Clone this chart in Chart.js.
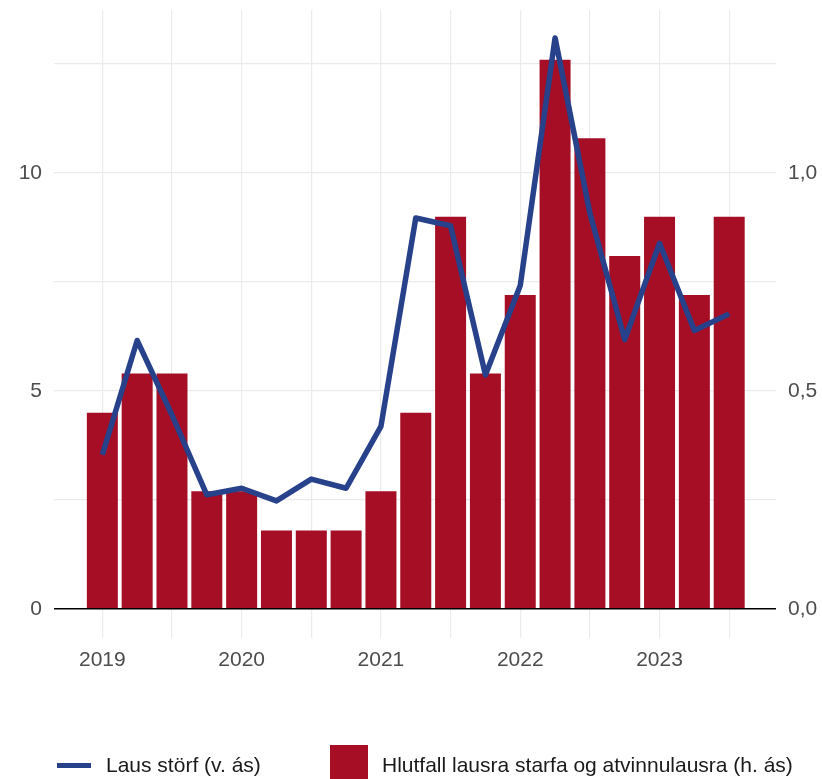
<!DOCTYPE html>
<html>
<head>
<meta charset="utf-8">
<script src="https://cdn.jsdelivr.net/npm/chart.js@4"></script>
<style>
  html, body { margin: 0; padding: 0; background: #fff; }
  #wrap { position: relative; width: 822px; height: 779px; overflow: hidden; }
  #c { position: absolute; left: 0; top: 0; }
  .leg { position: absolute; font-family: "Liberation Sans", Arial, sans-serif; font-size: 21px; color: #1a1a1a; white-space: nowrap; line-height: 24px; }
  .sw-line { position: absolute; height: 5px; background: #27418b; }
  .sw-box { position: absolute; background: #a50e24; }
</style>
</head>
<body>
<div id="wrap">
  <canvas id="c" width="822" height="779"></canvas>
  <div class="sw-line" style="left:57px; top:763px; width:34px;"></div>
  <div class="leg" style="left:106px; top:753px;">Laus störf (v. ás)</div>
  <div class="sw-box" style="left:330px; top:745px; width:38px; height:40px;"></div>
  <div class="leg" style="left:382px; top:753px;">Hlutfall lausra starfa og atvinnulausra (h. ás)</div>
</div>
<script>
// Quarters
const quarters = ["2019Q1","2019Q2","2019Q3","2019Q4","2020Q1","2020Q2","2020Q3","2020Q4",
  "2021Q1","2021Q2","2021Q3","2021Q4","2022Q1","2022Q2","2022Q3","2022Q4","2023Q1","2023Q2","2023Q3"];
// Laus störf (left axis)
const lausStorf = [3.54, 6.16, 4.45, 2.62, 2.77, 2.48, 2.98, 2.77, 4.19, 8.97, 8.79, 5.37, 7.42, 13.1, 9.08, 6.18, 8.39, 6.39, 6.77];
// Hlutfall lausra starfa og atvinnulausra (right axis)
const hlutfall = [0.45, 0.54, 0.54, 0.27, 0.27, 0.18, 0.18, 0.18, 0.27, 0.45, 0.90, 0.54, 0.72, 1.26, 1.08, 0.81, 0.90, 0.72, 0.90];
// Tick labels
const xTickValues = [2019, 2019.5, 2020, 2020.5, 2021, 2021.5, 2022, 2022.5, 2023, 2023.5];
const yLeftTicks = [0, 2.5, 5, 7.5, 10, 12.5];
const yLeftLabels = {0: "0", 5: "5", 10: "10"};
const yRightTicks = [0, 0.5, 1.0];
const yRightLabels = ["0,0", "0,5", "1,0"];

const qx = q => parseInt(q.slice(0, 4)) + (parseInt(q.slice(5)) - 1) / 4;
const lineData = quarters.map((q, i) => ({x: qx(q), y: lausStorf[i]}));
const barData = quarters.map((q, i) => ({x: qx(q), y: hlutfall[i]}));

const tickFont = {family: "'Liberation Sans', Arial, sans-serif", size: 21};
const tickColor = "#4d4d4d";
const gridColor = "#ebebeb";
const noPad = s => { s.paddingTop = 0; s.paddingBottom = 0; s.paddingLeft = 0; s.paddingRight = 0; };

new Chart(document.getElementById("c"), {
  data: {
    datasets: [
      {
        type: "line", label: "Laus störf (v. ás)", data: lineData, yAxisID: "y",
        borderColor: "#27418b", borderWidth: 5.5, pointRadius: 0, tension: 0,
        borderJoinStyle: "round", borderCapStyle: "butt", order: 0
      },
      {
        type: "bar", label: "Hlutfall lausra starfa og atvinnulausra (h. ás)", data: barData, yAxisID: "y2",
        backgroundColor: "#a50e24", borderWidth: 0, barPercentage: 0.89, categoryPercentage: 1.0, order: 1
      }
    ]
  },
  options: {
    responsive: false,
    animation: false,
    events: [],
    layout: {padding: {top: 10, bottom: 101, left: 0, right: 0}},
    plugins: {legend: {display: false}, tooltip: {enabled: false}},
    scales: {
      x: {
        type: "linear", min: 2018.653, max: 2023.836, offset: false,
        afterBuildTicks: s => { s.ticks = xTickValues.map(v => ({value: v})); },
        afterFit: s => { s.height = 40; noPad(s); },
        grid: {color: gridColor, lineWidth: 1.2, drawTicks: false, offset: false},
        border: {display: false},
        ticks: {
          font: tickFont, color: tickColor, padding: 10, maxRotation: 0, autoSkip: false,
          callback: v => Number.isInteger(v) ? String(v) : ""
        }
      },
      y: {
        type: "linear", position: "left", min: -0.665, max: 13.74,
        afterBuildTicks: s => { s.ticks = yLeftTicks.map(v => ({value: v})); },
        afterFit: s => { s.width = 54; noPad(s); },
        grid: {color: gridColor, lineWidth: 1.2, drawTicks: false},
        border: {display: false},
        ticks: {
          font: tickFont, color: tickColor, padding: 12,
          callback: v => (yLeftLabels[v] !== undefined ? yLeftLabels[v] : "")
        }
      },
      y2: {
        type: "linear", position: "right", min: -0.0665, max: 1.374,
        afterBuildTicks: s => { s.ticks = yRightTicks.map(v => ({value: v})); },
        afterFit: s => { s.width = 46; noPad(s); },
        grid: {
          z: 1, drawTicks: false,
          color: c => (c.tick && c.tick.value === 0 ? "#000000" : "rgba(0,0,0,0)"),
          lineWidth: c => (c.tick && c.tick.value === 0 ? 1.6 : 0)
        },
        border: {display: false},
        ticks: {
          font: tickFont, color: tickColor, padding: 12,
          callback: (v, i) => yRightLabels[i]
        }
      }
    }
  }
});
</script>
</body>
</html>
